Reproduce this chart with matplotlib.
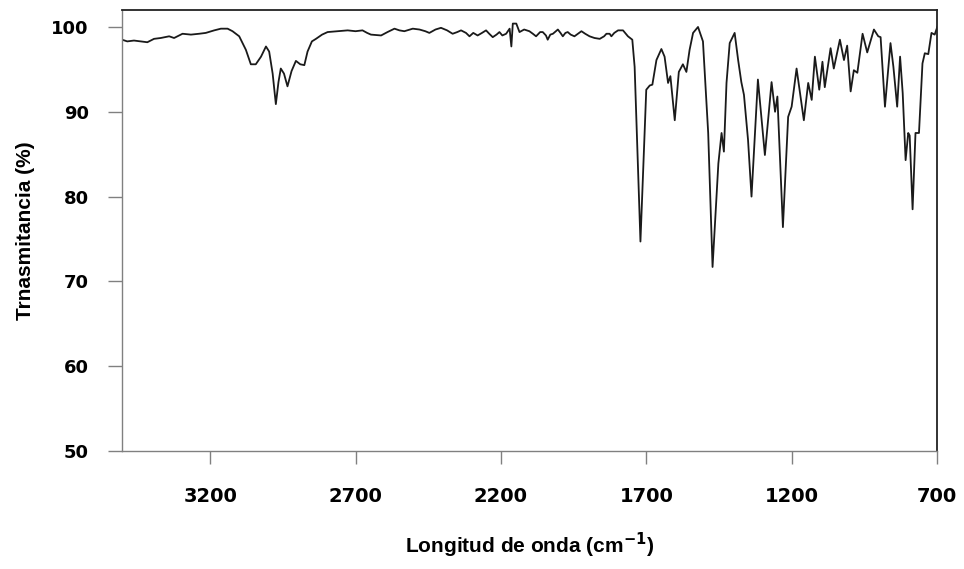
import matplotlib
matplotlib.use("Agg")
import matplotlib.pyplot as plt

# IR spectrum (wavenumber cm-1, transmittance %)
wavenumber = [3503, 3485, 3462, 3439, 3416, 3393, 3370, 3341, 3324, 3295,
              3266, 3238, 3215, 3186, 3163, 3140, 3123, 3100, 3077, 3060,
              3043, 3025, 3008, 2997, 2985, 2974, 2965, 2957, 2946, 2934,
              2920, 2905, 2890, 2876, 2865, 2850, 2836, 2815, 2796, 2760,
              2727, 2700, 2676, 2660, 2647, 2612, 2590, 2566, 2549, 2532,
              2503, 2480, 2460, 2446, 2425, 2406, 2385, 2366, 2350, 2337,
              2320, 2308, 2295, 2280, 2265, 2251, 2240, 2228, 2215, 2205,
              2195, 2182, 2170, 2164, 2159, 2147, 2136, 2120, 2102, 2090,
              2079, 2065, 2056, 2045, 2039, 2030, 2021, 2004, 1995, 1987,
              1978, 1970, 1960, 1947, 1935, 1923, 1910, 1895, 1878, 1860,
              1845, 1837, 1826, 1820, 1810, 1797, 1780, 1763, 1748, 1740,
              1720, 1700, 1688, 1679, 1665, 1648, 1637, 1625, 1617, 1602,
              1588, 1574, 1562, 1551, 1539, 1522, 1505, 1487, 1472, 1452,
              1441, 1433, 1424, 1413, 1396, 1384, 1373, 1364, 1350, 1338,
              1316, 1292, 1269, 1257, 1249, 1230, 1212, 1200, 1183, 1158,
              1143, 1131, 1120, 1105, 1094, 1086, 1066, 1055, 1034, 1020,
              1009, 997, 986, 974, 956, 940, 917, 902, 894, 879,
              860, 850, 837, 827, 818, 808, 799, 794, 784, 774,
              762, 750, 742, 730, 719, 708, 699]
transmittance = [98.5, 98.3, 98.4, 98.3, 98.2, 98.6, 98.7, 98.9, 98.7, 99.2,
                 99.1, 99.2, 99.3, 99.6, 99.8, 99.8, 99.5, 98.9, 97.3, 95.6,
                 95.6, 96.5, 97.7, 97.1, 94.5, 90.9, 93.5, 95.1, 94.5, 93.0,
                 94.8, 96.0, 95.6, 95.5, 97.1, 98.3, 98.6, 99.1, 99.4, 99.5,
                 99.6, 99.5, 99.6, 99.3, 99.1, 99.0, 99.4, 99.8, 99.6, 99.5,
                 99.8, 99.7, 99.5, 99.3, 99.7, 99.9, 99.6, 99.2, 99.4, 99.6,
                 99.3, 98.9, 99.3, 99.0, 99.3, 99.6, 99.2, 98.8, 99.1, 99.4,
                 99.0, 99.2, 99.8, 97.7, 100.4, 100.4, 99.4, 99.7, 99.5, 99.2,
                 98.9, 99.4, 99.4, 99.0, 98.5, 99.1, 99.2, 99.7, 99.3, 98.9,
                 99.3, 99.4, 99.1, 98.9, 99.2, 99.5, 99.2, 98.9, 98.7, 98.6,
                 98.9, 99.2, 99.2, 98.9, 99.3, 99.6, 99.6, 98.9, 98.5, 95.3,
                 74.7, 92.6, 93.1, 93.2, 96.1, 97.4, 96.5, 93.4, 94.2, 89.0,
                 94.7, 95.6, 94.7, 97.3, 99.3, 100.0, 98.3, 87.5, 71.7, 83.9,
                 87.5, 85.3, 93.4, 98.1, 99.3, 96.1, 93.5, 92.0, 86.7, 80.0,
                 93.8, 84.9, 93.5, 90.0, 91.8, 76.4, 89.4, 90.6, 95.1, 89.0,
                 93.4, 91.4, 96.5, 92.6, 95.9, 92.9, 97.5, 95.1, 98.5, 96.1,
                 97.8, 92.4, 94.9, 94.6, 99.2, 97.0, 99.7, 98.9, 98.8, 90.6,
                 98.1, 95.3, 90.6, 96.5, 92.2, 84.3, 87.5, 87.2, 78.5, 87.5,
                 87.5, 95.7, 96.9, 96.8, 99.3, 99.1, 100.0]

x_ticks = [3200, 2700, 2200, 1700, 1200, 700]
y_ticks = [50, 60, 70, 80, 90, 100]

fig = plt.figure(figsize=(9.64, 5.69), dpi=100)
ax = fig.add_axes([0.1266, 0.2074, 0.8454, 0.775])

ax.plot(wavenumber, transmittance, color='#1a1a1a', linewidth=1.3)

ax.set_xlim(3503, 700)
ax.set_ylim(50, 102)
ax.set_xticks(x_ticks)
ax.set_yticks(y_ticks)

ax.set_xticklabels([str(t) for t in x_ticks], family='DejaVu Sans', fontweight='bold', fontsize=14)
ax.set_yticklabels([str(t) for t in y_ticks], family='DejaVu Sans', fontweight='bold', fontsize=13)

ax.tick_params(axis='x', direction='out', length=9, width=1, color='#808080', pad=17)
ax.tick_params(axis='y', direction='out', length=10, width=1, color='#808080', pad=14)

for side in ['left', 'bottom']:
    ax.spines[side].set_color('#808080')
    ax.spines[side].set_linewidth(1)
for side in ['top', 'right']:
    ax.spines[side].set_color('#222222')
    ax.spines[side].set_linewidth(1.3)

ax.set_xlabel('Longitud de onda (cm$^{\\mathbf{-1}}$)', family='Liberation Sans', fontweight='bold',
              fontsize=15, labelpad=18)
ax.set_ylabel('Trnasmitancia (%)', family='Liberation Sans', fontweight='bold',
              fontsize=15, labelpad=12)

fig.savefig('out.png', dpi=100)
print("Generated: out.png")
